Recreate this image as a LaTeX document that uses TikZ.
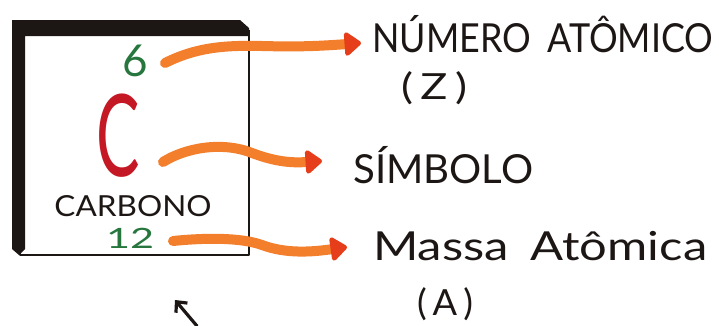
\documentclass[tikz,border=0pt]{standalone}
\usepackage{fontspec}
\setmainfont{Lato}
\usetikzlibrary{arrows.meta}
\definecolor{ink}{RGB}{28,22,20}
\definecolor{penGreen}{RGB}{38,118,62}
\definecolor{penRed}{RGB}{196,24,36}
\definecolor{marker}{RGB}{243,126,44}
\definecolor{markerTip}{RGB}{230,62,26}
% stretch a text to a given width, keeping its height
\newcommand{\fitw}[2]{\resizebox{#1}{\height}{#2}}
\tikzset{
  txt/.style={inner sep=0pt, text=ink},
  fsz/.style={font=\fontsize{#1}{#1}\selectfont},
  marker arrow/.style={draw=marker, line width=10pt, line cap=round,
    -{Triangle[length=18pt,width=27pt,round,color=markerTip]}},
  frame line/.style={draw=ink, line width=2.6pt, line join=round}
}
\begin{document}
\begin{tikzpicture}[x=1pt,y=-1pt]
\useasboundingbox (0,0) rectangle (719,325);

% element tile: thin frame plus heavy top-left shadow bars
\draw[frame line] (20,35) -- (20,255) -- (249,255) -- (249,30);
\fill[ink] (12,20) -- (240,20) -- (249,28) -- (249,36) -- (25,36)
  -- (25,249) -- (19,255) -- (12,249) -- cycle;

% tile contents
\node[txt, fsz=44, text=penGreen, anchor=base] (z) at (135,76) {6};
\node[txt, fsz=114, text=penRed, anchor=base] (sym) at (118,176) {\scalebox{0.57}[1]{C}};
\node[txt, fsz=29, anchor=base] (name) at (133,216) {\fitw{157pt}{CARBONO}};
\node[txt, fsz=28, text=penGreen, anchor=base] (mass) at (130,248) {\fitw{48pt}{12}};

% labels
\node[txt, fsz=40, anchor=base west] (lz) at (372,52) {\fitw{341pt}{NÚMERO\hspace{18pt}ATÔMICO}};
\node[txt, fsz=36] (lzz) at (434,88) {\fitw{66pt}{(\,Z\,)}};
\node[txt, fsz=40, anchor=base west] (lsym) at (353,183) {\fitw{180pt}{SÍMBOLO}};
\node[txt, fsz=40, anchor=base west] (lm) at (373,260) {\fitw{334pt}{Massa\hspace{18pt}Atômica}};
\node[txt, fsz=36] (la) at (445,304) {\fitw{56pt}{(\,A\,)}};

% connector end points
\coordinate (z0) at (165,63);
\coordinate (z1) at (361,43);
\coordinate (s0) at (163,162);
\coordinate (s1) at (322,161);
\coordinate (m0) at (173,241);
\coordinate (m1) at (347,247);

% marker arrows
\draw[marker arrow] (z0) .. controls (195,48) and (222,45) .. (262,46)
  .. controls (300,47) and (320,46) .. (z1);
\draw[marker arrow] (s0) .. controls (185,148) and (222,141) .. (252,153)
  .. controls (276,162) and (292,163) .. (s1);
\draw[marker arrow] (m0) .. controls (202,238) and (240,237) .. (262,245)
  .. controls (286,254) and (312,252) .. (m1);

% small pointer arrow at the bottom
\coordinate (p0) at (197,326);
\coordinate (p1) at (175,300);
\draw[ink, line width=3.2pt, line cap=round,
  -{Straight Barb[length=8pt,width=15pt,line width=3.2pt]}] (p0) -- (p1);
\end{tikzpicture}
\end{document}
